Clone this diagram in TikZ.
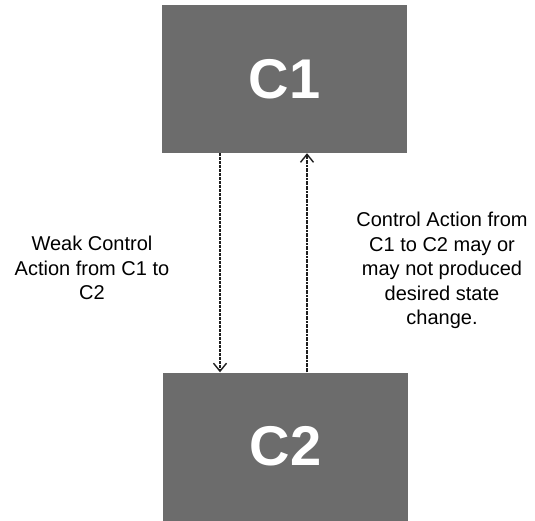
\documentclass[tikz,border=0pt]{standalone}
\usepackage{fontspec}
\setmainfont{Liberation Sans}
\usetikzlibrary{arrows.meta}
\definecolor{boxgray}{RGB}{108,108,108}
\definecolor{linegray}{RGB}{30,30,30}
\begin{document}
\begin{tikzpicture}[x=1pt,y=-1pt,
  ctrlbox/.style={fill=boxgray, draw=none, minimum width=245pt, minimum height=148pt,
    inner sep=0pt, text=white, font=\fontsize{56}{60}\selectfont\bfseries},
  note/.style={align=center, text=black, inner sep=0pt,
    font=\fontsize{20}{24.5}\selectfont},
  flow/.style={draw=linegray, line width=1.4pt,
    -{Straight Barb[length=8pt,width=13pt,line width=1.4pt]}}
]
\useasboundingbox (0,0) rectangle (535,520);

\node[ctrlbox] (C1) at (284.5,79) {C1};
\node[ctrlbox] (C2) at (285.5,446.5) {C2};

% weak control action, C1 down to C2
\draw[flow, dash pattern=on 3pt off 1pt] ([xshift=-64.5pt]C1.south) -- ([xshift=-65.5pt]C2.north);
% feedback path, C2 up to C1
\draw[flow, dash pattern=on 2pt off 0.6pt] ([xshift=21.5pt]C2.north) -- ([xshift=22.5pt]C1.south);

\node[note] (weak) at (92,268) {Weak Control\\Action from C1 to\\C2};
\node[note] (effect) at (442,270.5) {Control Action from\\C1 to C2 may or\\may not produced\\desired state\\change.};
\end{tikzpicture}
\end{document}
